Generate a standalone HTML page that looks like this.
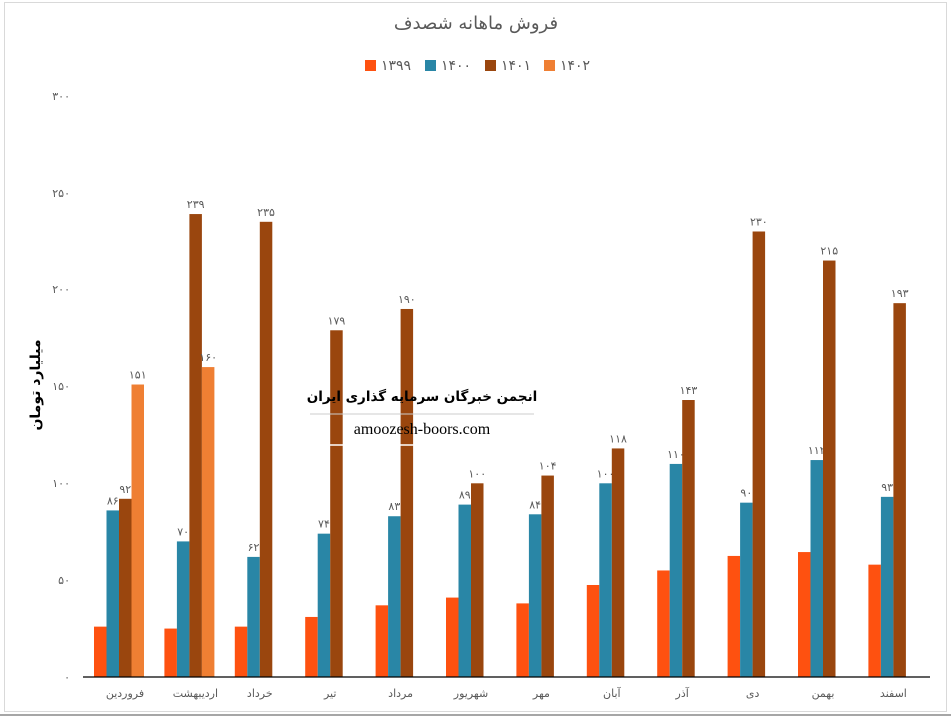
<!DOCTYPE html>
<html><head><meta charset="utf-8"><style>
body{margin:0;background:#fff;}
svg text{font-family:"DejaVu Sans","Liberation Sans","Noto Sans CJK SC",sans-serif;}
</style></head><body>
<svg width="951" height="717" xmlns="http://www.w3.org/2000/svg">
<rect x="0" y="0" width="951" height="717" fill="#fff"/>
<rect x="4.5" y="2.5" width="942" height="709" fill="none" stroke="#d9d9d9"/>
<line x1="0" y1="715" x2="951" y2="715" stroke="#a6a6a6" stroke-width="2"/>
<text x="476" y="29" text-anchor="middle" font-size="18" fill="#595959">فروش ماهانه شصدف</text>
<g font-size="14" fill="#595959">
<rect x="365" y="60" width="11" height="11" fill="#FE5110"/><text x="381" y="70">۱۳۹۹</text>
<rect x="425" y="60" width="11" height="11" fill="#2986A6"/><text x="441" y="70">۱۴۰۰</text>
<rect x="485" y="60" width="11" height="11" fill="#9A460E"/><text x="501" y="70">۱۴۰۱</text>
<rect x="544" y="60" width="11" height="11" fill="#EF7F33"/><text x="560" y="70">۱۴۰۲</text>
</g>
<g font-size="11" fill="#595959" text-anchor="end">
<text x="70" y="681">۰</text><text x="70" y="584">۵۰</text><text x="70" y="487">۱۰۰</text>
<text x="70" y="390">۱۵۰</text><text x="70" y="293">۲۰۰</text><text x="70" y="197">۲۵۰</text><text x="70" y="100">۳۰۰</text>
</g>
<text transform="translate(40,385) rotate(-90)" text-anchor="middle" font-size="14" font-weight="bold" fill="#000">میلیارد تومان</text>
<g id="bars"></g>
<line x1="83" y1="677" x2="930" y2="677" stroke="#000" stroke-width="1.2"/>
<g>
<text x="422" y="401" text-anchor="middle" font-size="13.5" font-weight="bold" fill="#000">انجمن خبرگان سرمایه گذاری ایران</text>
<line x1="310" y1="414" x2="534" y2="414" stroke="#ccc"/>
<text x="422" y="434" text-anchor="middle" font-size="16" fill="#000" style="font-family:'Liberation Serif',serif">amoozesh-boors.com</text>
<line x1="310" y1="445" x2="534" y2="445" stroke="#fff" stroke-width="1.5"/>
</g>
</svg>
<script>
var o=[26,25,26,31,37,41,38,47.5,55,62.5,64.5,58],
b=[86,70,62,74,83,89,84,100,110,90,112,93],
r=[92,239,235,179,190,100,104,118,143,230,215,193],
l=[151,160],
m=["فروردین","اردیبهشت","خرداد","تیر","مرداد","شهریور","مهر","آبان","آذر","دی","بهمن","اسفند"];
function fa(n){return String(n).replace(/\d/g,d=>"۰۱۲۳۴۵۶۷۸۹"[d]);}
var s="",k=1.937,w=12.5;
function bar(x,v,c,lab){var h=v*k;s+='<rect x="'+x+'" y="'+(677-h)+'" width="'+w+'" height="'+h+'" fill="'+c+'"/>';
if(lab)s+='<text x="'+(x+w/2)+'" y="'+(677-h-6)+'" text-anchor="middle" font-size="11" fill="#595959">'+fa(v)+'</text>';}
for(var i=0;i<12;i++){var x=94+70.4*i;
bar(x,o[i],"#FE5110",false);bar(x+w,b[i],"#2986A6",true);bar(x+2*w,r[i],"#9A460E",true);
if(i<2)bar(x+3*w,l[i],"#EF7F33",true);
s+='<text x="'+(x+(i<2?25:19)+6)+'" y="697" text-anchor="middle" font-size="11" fill="#595959">'+m[i]+'</text>';}
document.getElementById("bars").innerHTML=s;
</script>
</body></html>
